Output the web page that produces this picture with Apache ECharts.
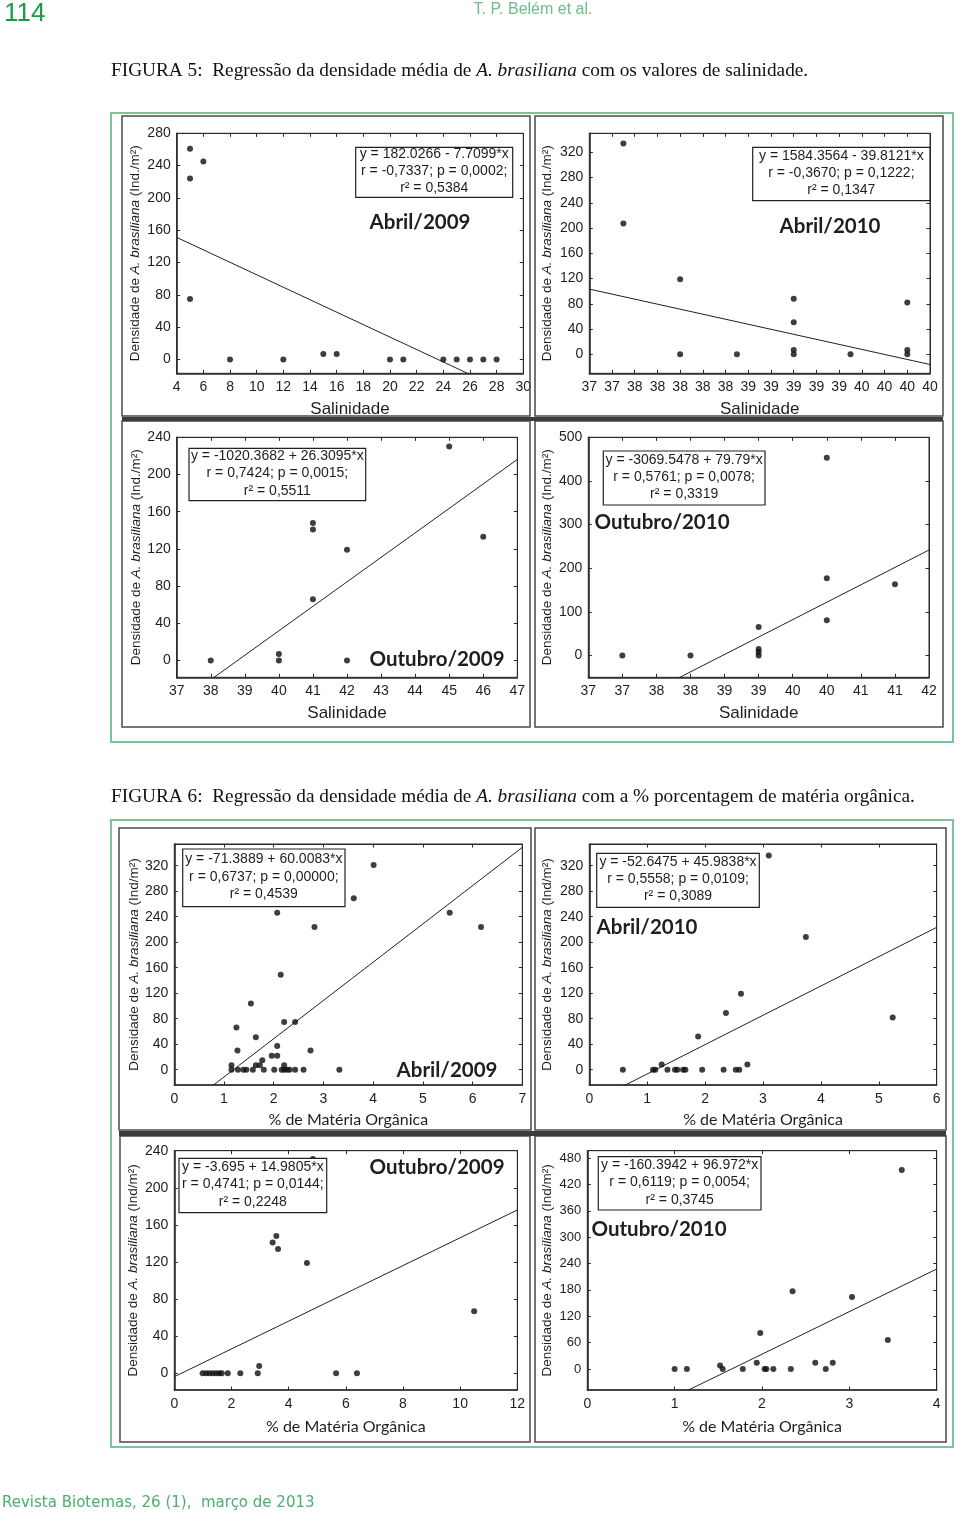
<!DOCTYPE html>
<html><head><meta charset="utf-8">
<script src="https://cdn.jsdelivr.net/npm/echarts@6/dist/echarts.min.js"></script>
<style>html,body{margin:0;padding:0;background:#fff}#c{width:960px;height:1517px}</style>
</head><body><div id="c"></div><script>
// ================= DATA =================
// FIGURA 5 – densidade x salinidade
const sal_abr2009 = [5, 5, 5, 6, 8, 12, 15, 16, 20, 21, 24, 25, 26, 27, 28];
const dens_sal_abr2009 = [261, 224, 75, 245, 0, 0, 7, 7, 0, 0, 0, 0, 0, 0, 0];
const sal_abr2010 = [37.5, 37.5, 38, 38, 38.5, 39, 39, 39, 39, 39.5, 40, 40, 40];
const dens_sal_abr2010 = [334, 207, 119, 0, 0, 88, 51, 7, 0, 0, 82, 7, 0];
const sal_out2009 = [38, 40, 40, 41, 41, 41, 42, 42, 45, 46];
const dens_sal_out2009 = [0, 7, 0, 148, 141, 66, 119, 0, 230, 133];
const sal_out2010 = [37, 38, 39, 39, 39, 39, 40, 40, 40, 41];
const dens_sal_out2010 = [0, 0, 65, 15, 8, 0, 453, 177, 81, 163];
// FIGURA 6 – densidade x % matéria orgânica
const mo_abr2009 = [1.15, 1.15, 1.27, 1.25, 1.28, 1.39, 1.45, 1.58, 1.80, 2.01, 2.16, 2.21, 2.27, 2.32, 2.43, 2.60, 3.32,
  1.54, 1.64, 1.64, 1.72, 1.77, 1.96, 2.07, 2.07, 2.07, 2.14, 2.21, 2.21, 2.43, 2.74, 2.82, 3.61, 4.01, 5.54, 6.17];
const dens_mo_abr2009 = [7, 0, 30, 66, 0, 0, 0, 0, 0, 0, 0, 0, 0, 0, 0, 0, 0,
  104, 51, 7, 7, 15, 22, 22, 37, 246, 149, 75, 7, 75, 30, 224, 269, 321, 246, 224];
const mo_abr2010 = [0.58, 1.10, 1.14, 1.25, 1.35, 1.48, 1.52, 1.62, 1.66, 1.88, 1.95, 2.32, 2.36, 2.53, 2.59, 2.62, 2.73, 3.10, 3.74, 5.24];
const dens_mo_abr2010 = [0, 0, 0, 8, 0, 0, 0, 0, 0, 52, 0, 0, 89, 0, 0, 119, 8, 336, 208, 82];
const mo_out2009 = [0.99, 1.11, 1.22, 1.34, 1.46, 1.57, 1.66, 1.87, 2.31, 2.92, 5.66, 6.39, 2.97, 3.44, 3.57, 3.63, 4.64, 10.49, 4.85];
const dens_mo_out2009 = [0, 0, 0, 0, 0, 0, 0, 0, 0, 0, 0, 0, 8, 141, 148, 134, 119, 67, 231];
const mo_out2010 = [1.00, 1.14, 1.52, 1.55, 1.78, 1.98, 1.94, 2.03, 2.05, 2.13, 2.33, 2.35, 2.61, 2.73, 2.81, 3.03, 3.44, 3.60];
const dens_mo_out2010 = [0, 0, 8, 0, 0, 82, 14, 0, 0, 0, 0, 177, 14, 0, 14, 164, 66, 453];

// regression coefficients (y = a + b*x)
const regIntercept = [182.0266, 1584.3564, -1020.3682, -3069.5478, -71.3889, -52.6475, -3.695, -160.3942];
const regSlope = [-7.7099, -39.8121, 26.3095, 79.79, 60.0083, 45.9838, 14.9805, 96.972];
const eqText = ['y = 182.0266 - 7.7099*x', 'y = 1584.3564 - 39.8121*x', 'y = -1020.3682 + 26.3095*x', 'y = -3069.5478 + 79.79*x',
  'y = -71.3889 + 60.0083*x', 'y = -52.6475 + 45.9838*x', 'y = -3.695 + 14.9805*x', 'y = -160.3942 + 96.972*x'];
const rText = ['r = -0,7337; p = 0,0002;', 'r = -0,3670; p = 0,1222;', 'r = 0,7424; p = 0,0015;', 'r = 0,5761; p = 0,0078;',
  'r = 0,6737; p = 0,00000;', 'r = 0,5558; p = 0,0109;', 'r = 0,4741; p = 0,0144;', 'r = 0,6119; p = 0,0054;'];
const r2Text = ['0,5384', '0,1347', '0,5511', '0,3319', '0,4539', '0,3089', '0,2248', '0,3745'];
const panelTitles = ['Abril/2009', 'Abril/2010', 'Outubro/2009', 'Outubro/2010', 'Abril/2009', 'Abril/2010', 'Outubro/2009', 'Outubro/2010'];

// tick values
const xTicks1 = [4, 6, 8, 10, 12, 14, 16, 18, 20, 22, 24, 26, 28, 30];
const yTicks1 = [0, 40, 80, 120, 160, 200, 240, 280];
const xTicks2 = [37.2, 37.4, 37.6, 37.8, 38.0, 38.2, 38.4, 38.6, 38.8, 39.0, 39.2, 39.4, 39.6, 39.8, 40.0, 40.2];
const yTicks2 = [0, 40, 80, 120, 160, 200, 240, 280, 320];
const xTicks3 = [37, 38, 39, 40, 41, 42, 43, 44, 45, 46, 47];
const yTicks3 = [0, 40, 80, 120, 160, 200, 240];
const xTicks4 = [36.5, 37, 37.5, 38, 38.5, 39, 39.5, 40, 40.5, 41, 41.5];
const yTicks4 = [0, 100, 200, 300, 400, 500];
const xTicks5 = [0, 1, 2, 3, 4, 5, 6, 7];
const yTicks5 = [0, 40, 80, 120, 160, 200, 240, 280, 320];
const xTicks6 = [0, 1, 2, 3, 4, 5, 6];
const yTicks6 = [0, 40, 80, 120, 160, 200, 240, 280, 320];
const xTicks7 = [0, 2, 4, 6, 8, 10, 12];
const yTicks7 = [0, 40, 80, 120, 160, 200, 240];
const xTicks8 = [0, 1, 2, 3, 4];
const yTicks8 = [0, 60, 120, 180, 240, 300, 360, 420, 480];

// ================= LAYOUT =================
const SAL = 'Salinidade', MO = '% de Matéria Orgânica';
const YN1 = 'Densidade de {i|A. brasiliana} (Ind./m²)', YN2 = 'Densidade de {i|A. brasiliana} (Ind/m²)';
const panels = [
  {x: sal_abr2009, y: dens_sal_abr2009, xt: xTicks1, yt: yTicks1, xr: [4, 30], yr: [-17, 280], round: false, xn: SAL, yn: YN1,
   plot: [176.7, 133.3, 523.3, 373.3], box: [355.7, 147.3, 512.7, 197.3], title: [420, 222], yGap: 34, xGap: 28},
  {x: sal_abr2010, y: dens_sal_abr2010, xt: xTicks2, yt: yTicks2, xr: [37.2, 40.2], yr: [-30, 350], round: true, xn: SAL, yn: YN1,
   plot: [589.3, 133.3, 930, 373.3], box: [752.7, 147.3, 930, 200.7], title: [830, 226], yGap: 35, xGap: 28},
  {x: sal_out2009, y: dens_sal_out2009, xt: xTicks3, yt: yTicks3, xr: [37, 47], yr: [-18, 240], round: false, xn: SAL, yn: YN1,
   plot: [176.7, 437.3, 517.3, 677.3], box: [189, 448.3, 365.7, 500.7], title: [437, 659], yGap: 33, xGap: 28},
  {x: sal_out2010, y: dens_sal_out2010, xt: xTicks4, yt: yTicks4, xr: [36.5, 41.5], yr: [-50, 500], round: true, xn: SAL, yn: YN1,
   plot: [588.3, 437.3, 929, 677.3], box: [603.3, 451, 765, 505], title: [662, 522], yGap: 34, xGap: 28},
  {x: mo_abr2009, y: dens_mo_abr2009, xt: xTicks5, yt: yTicks5, xr: [0, 7], yr: [-24, 354], round: false, xn: MO, yn: YN2,
   plot: [174.3, 844, 522.3, 1085], box: [182.7, 849, 345, 906.7], title: [447, 1070], yGap: 31, xGap: 27},
  {x: mo_abr2010, y: dens_mo_abr2010, xt: xTicks6, yt: yTicks6, xr: [0, 6], yr: [-24, 354], round: false, xn: MO, yn: YN2,
   plot: [589.3, 844, 936.7, 1085], box: [596.7, 853.3, 759.3, 907.3], title: [647, 927], yGap: 35, xGap: 27},
  {x: mo_out2009, y: dens_mo_out2009, xt: xTicks7, yt: yTicks7, xr: [0, 12], yr: [-18, 240], round: false, xn: MO, yn: YN2,
   plot: [174.3, 1150.7, 517.3, 1390], box: [179, 1158.3, 326.7, 1212.7], title: [437, 1167], yGap: 34, xGap: 29},
  {x: mo_out2010, y: dens_mo_out2010, xt: xTicks8, yt: yTicks8, xr: [0, 4], yr: [-48, 497], round: false, xn: MO, yn: YN2,
   plot: [587.3, 1150.7, 936.7, 1390], box: [598.3, 1156.7, 761, 1210], title: [659, 1229], yGap: 33, xGap: 29}
];

const AX = '#2a2a2a', TXT = '#1e1e1e';
const grids = [], xAxes = [], yAxes = [], series = [], graphics = [];

panels.forEach((p, i) => {
  const [l, t, r, b] = p.plot;
  grids.push({left: l, top: t, width: r - l, height: b - t, show: true, borderColor: AX, borderWidth: 1, backgroundColor: 'transparent'});
  const fmt = p.round ? (v => String(Math.round(v))) : (v => String(v));
  const nameFont = p.xn === MO
    ? {fontFamily: 'Lato', fontSize: 16, color: TXT}
    : {fontFamily: 'Liberation Sans', fontSize: 17, color: TXT};
  const common = (ticks, w) => ({
    axisLine: {onZero: false, lineStyle: {color: AX, width: w}},
    axisTick: {inside: true, length: 3.5, customValues: ticks, lineStyle: {color: AX}},
    splitLine: {show: false}
  });
  xAxes.push(Object.assign({gridIndex: i, type: 'value', min: p.xr[0], max: p.xr[1], position: 'bottom',
    axisLabel: {customValues: p.xt, formatter: fmt, color: TXT, fontFamily: 'Liberation Sans', fontSize: 14, margin: 7},
    name: p.xn, nameLocation: 'middle', nameGap: p.xGap, nameTextStyle: nameFont}, common(p.xt, 1.6)));
  xAxes.push(Object.assign({gridIndex: i, type: 'value', min: p.xr[0], max: p.xr[1], position: 'top',
    axisLabel: {show: false}}, common(p.xt, 1)));
  yAxes.push(Object.assign({gridIndex: i, type: 'value', min: p.yr[0], max: p.yr[1], position: 'left',
    axisLabel: {customValues: p.yt, color: TXT, fontFamily: 'Liberation Sans', fontSize: i === 7 ? 13 : 14, margin: 6},
    name: p.yn, nameLocation: 'middle', nameGap: p.yGap,
    nameTextStyle: {fontFamily: 'Liberation Sans', fontSize: 13.5, color: TXT,
      rich: {i: {fontFamily: 'Liberation Sans', fontSize: 13.5, fontStyle: 'italic', color: TXT}}}}, common(p.yt, 1.6)));
  yAxes.push(Object.assign({gridIndex: i, type: 'value', min: p.yr[0], max: p.yr[1], position: 'right',
    axisLabel: {show: false}}, common(p.yt, 1)));

  series.push({type: 'scatter', xAxisIndex: 2 * i, yAxisIndex: 2 * i, symbolSize: 6, silent: true,
    itemStyle: {color: '#0e0e0e'}, data: p.x.map((v, k) => [v, p.y[k]]), z: 3});
  const a = regIntercept[i], bb = regSlope[i];
  series.push({type: 'line', xAxisIndex: 2 * i, yAxisIndex: 2 * i, symbol: 'none', silent: true, clip: true,
    lineStyle: {color: '#222', width: 1}, data: [[p.xr[0], a + bb * p.xr[0]], [p.xr[1], a + bb * p.xr[1]]], z: 2});

  // stats box
  const [bx1, by1, bx2, by2] = p.box;
  const cx = (bx1 + bx2) / 2, cy = (by1 + by2) / 2 - 1;
  graphics.push({type: 'rect', z: 100, shape: {x: bx1, y: by1, width: bx2 - bx1, height: by2 - by1},
    style: {fill: '#fff', stroke: '#222', lineWidth: 1.2}});
  [eqText[i], rText[i], 'r² = ' + r2Text[i]].forEach((s, k) => {
    graphics.push({type: 'text', z: 101, x: cx, y: cy + (k - 1) * 17.3,
      style: {text: s, fontFamily: 'Liberation Sans', fontSize: 14, fill: TXT, align: 'center', verticalAlign: 'middle',
        textAlign: 'center', textVerticalAlign: 'middle'}});
  });
  graphics.push({type: 'text', z: 101, x: p.title[0], y: p.title[1],
    style: {text: panelTitles[i], fontFamily: 'Lato', fontWeight: 'bold', fontSize: 20.5, fill: '#1e1e1e',
      align: 'center', verticalAlign: 'middle', textAlign: 'center', textVerticalAlign: 'middle'}});
});

// panel frames
const frameRects = [
  [122, 116, 408, 300], [535, 116, 408, 300], [122, 421, 408, 306], [535, 421, 408, 306],
  [119, 828, 412, 302], [535, 828, 411, 302], [120, 1136, 410, 306], [535, 1136, 411, 306]
];
frameRects.forEach(f => graphics.push({type: 'rect', z: 99, shape: {x: f[0], y: f[1], width: f[2], height: f[3]},
  style: {fill: 'none', stroke: '#4a4a4a', lineWidth: 1.5}}));
// thick separators between rows
graphics.push({type: 'line', z: 99, shape: {x1: 122, y1: 419, x2: 943, y2: 419}, style: {stroke: '#3c3c3c', lineWidth: 4}});
graphics.push({type: 'line', z: 99, shape: {x1: 119, y1: 1133.5, x2: 946, y2: 1133.5}, style: {stroke: '#3c3c3c', lineWidth: 5}});
// green outer frames
graphics.push({type: 'rect', z: 98, shape: {x: 111, y: 113, width: 842, height: 629}, style: {fill: 'none', stroke: '#7cc497', lineWidth: 2}});
graphics.push({type: 'rect', z: 98, shape: {x: 111, y: 820, width: 842, height: 627}, style: {fill: 'none', stroke: '#7cc497', lineWidth: 2}});

// header, captions, footer
graphics.push({type: 'text', z: 101, x: 4, y: 14, style: {text: '114', fontFamily: 'Liberation Sans', fontSize: 26, fill: '#1a9b4b',
  align: 'left', verticalAlign: 'middle', textAlign: 'left', textVerticalAlign: 'middle'}});
graphics.push({type: 'text', z: 101, x: 533, y: 10, style: {text: 'T. P. Belém et al.', fontFamily: 'Liberation Sans', fontSize: 16, fill: '#6cbf86',
  align: 'center', verticalAlign: 'middle', textAlign: 'center', textVerticalAlign: 'middle'}});
const capRich = {i: {fontFamily: 'Liberation Serif', fontSize: 19.3, fontStyle: 'italic', fill: '#111'}};
graphics.push({type: 'text', z: 101, x: 111, y: 71, style: {text: 'FIGURA 5:  Regressão da densidade média de {i|A. brasiliana} com os valores de salinidade.',
  fontFamily: 'Liberation Serif', fontSize: 19.3, fill: '#111', rich: capRich, align: 'left', verticalAlign: 'middle', textAlign: 'left', textVerticalAlign: 'middle'}});
graphics.push({type: 'text', z: 101, x: 111, y: 797, style: {text: 'FIGURA 6:  Regressão da densidade média de {i|A. brasiliana} com a % porcentagem de matéria orgânica.',
  fontFamily: 'Liberation Serif', fontSize: 19.3, fill: '#111', rich: capRich, align: 'left', verticalAlign: 'middle', textAlign: 'left', textVerticalAlign: 'middle'}});
graphics.push({type: 'text', z: 101, x: 2, y: 1503, style: {text: 'Revista Biotemas, 26 (1),  março de 2013', fontFamily: 'DejaVu Sans', fontSize: 15, fill: '#4caf6e',
  align: 'left', verticalAlign: 'middle', textAlign: 'left', textVerticalAlign: 'middle'}});

const chart = echarts.init(document.getElementById('c'), null, {renderer: 'canvas', width: 960, height: 1517});
chart.setOption({
  animation: false,
  backgroundColor: '#fff',
  grid: grids, xAxis: xAxes, yAxis: yAxes, series: series,
  graphic: {elements: graphics}
});
</script></body></html>
